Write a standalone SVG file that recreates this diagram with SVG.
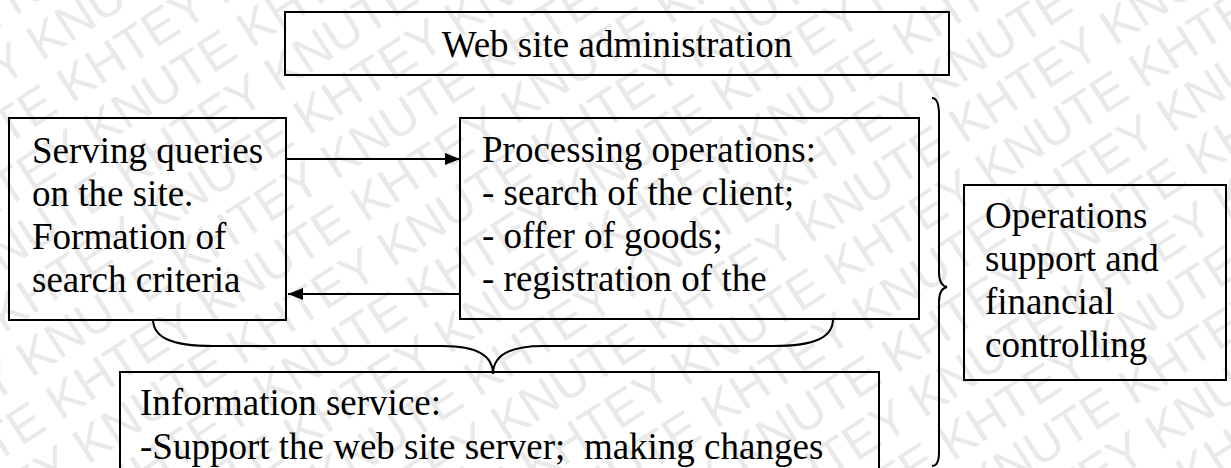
<svg xmlns="http://www.w3.org/2000/svg" width="1231" height="468" viewBox="0 0 1231 468">
  <style>
    .box { fill: none; stroke: #000; stroke-width: 2; }
    .label { font-family: "Liberation Serif", "Times New Roman", serif; font-size: 37px; fill: #000; }
    .wire { fill: none; stroke: #000; stroke-width: 2; }
    .brace { fill: none; stroke: #000; stroke-width: 2; }
    .wm { font-family: "Liberation Sans", Arial, sans-serif; font-size: 50px; fill: #e9e9e9; }
  </style>
  <defs>
    <marker id="arrowhead" markerWidth="16" markerHeight="12" refX="15" refY="6" orient="auto" markerUnits="userSpaceOnUse">
      <path d="M0,0 L15,6 L0,12 Z" fill="#000"/>
    </marker>
  </defs>

  <rect width="1231" height="468" fill="#fff"/>

  <!-- background stamp rows, staggered by half a period -->
  <g id="watermark" transform="rotate(-33)">
    <text class="wm" x="-725" y="-30">KNUTE KHTEY KNUTE KHTEY KNUTE KHTEY KNUTE KHTEY KNUTE KHTEY KNUTE KHTEY</text>
    <text class="wm" x="-543" y="22">KNUTE KHTEY KNUTE KHTEY KNUTE KHTEY KNUTE KHTEY KNUTE KHTEY KNUTE KHTEY</text>
    <text class="wm" x="-725" y="74">KNUTE KHTEY KNUTE KHTEY KNUTE KHTEY KNUTE KHTEY KNUTE KHTEY KNUTE KHTEY</text>
    <text class="wm" x="-543" y="126">KNUTE KHTEY KNUTE KHTEY KNUTE KHTEY KNUTE KHTEY KNUTE KHTEY KNUTE KHTEY</text>
    <text class="wm" x="-725" y="178">KNUTE KHTEY KNUTE KHTEY KNUTE KHTEY KNUTE KHTEY KNUTE KHTEY KNUTE KHTEY</text>
    <text class="wm" x="-543" y="230">KNUTE KHTEY KNUTE KHTEY KNUTE KHTEY KNUTE KHTEY KNUTE KHTEY KNUTE KHTEY</text>
    <text class="wm" x="-725" y="282">KNUTE KHTEY KNUTE KHTEY KNUTE KHTEY KNUTE KHTEY KNUTE KHTEY KNUTE KHTEY</text>
    <text class="wm" x="-543" y="334">KNUTE KHTEY KNUTE KHTEY KNUTE KHTEY KNUTE KHTEY KNUTE KHTEY KNUTE KHTEY</text>
    <text class="wm" x="-725" y="386">KNUTE KHTEY KNUTE KHTEY KNUTE KHTEY KNUTE KHTEY KNUTE KHTEY KNUTE KHTEY</text>
    <text class="wm" x="-543" y="438">KNUTE KHTEY KNUTE KHTEY KNUTE KHTEY KNUTE KHTEY KNUTE KHTEY KNUTE KHTEY</text>
    <text class="wm" x="-725" y="490">KNUTE KHTEY KNUTE KHTEY KNUTE KHTEY KNUTE KHTEY KNUTE KHTEY KNUTE KHTEY</text>
    <text class="wm" x="-543" y="542">KNUTE KHTEY KNUTE KHTEY KNUTE KHTEY KNUTE KHTEY KNUTE KHTEY KNUTE KHTEY</text>
    <text class="wm" x="-725" y="594">KNUTE KHTEY KNUTE KHTEY KNUTE KHTEY KNUTE KHTEY KNUTE KHTEY KNUTE KHTEY</text>
    <text class="wm" x="-543" y="646">KNUTE KHTEY KNUTE KHTEY KNUTE KHTEY KNUTE KHTEY KNUTE KHTEY KNUTE KHTEY</text>
    <text class="wm" x="-725" y="698">KNUTE KHTEY KNUTE KHTEY KNUTE KHTEY KNUTE KHTEY KNUTE KHTEY KNUTE KHTEY</text>
    <text class="wm" x="-543" y="750">KNUTE KHTEY KNUTE KHTEY KNUTE KHTEY KNUTE KHTEY KNUTE KHTEY KNUTE KHTEY</text>
    <text class="wm" x="-725" y="802">KNUTE KHTEY KNUTE KHTEY KNUTE KHTEY KNUTE KHTEY KNUTE KHTEY KNUTE KHTEY</text>
    <text class="wm" x="-543" y="854">KNUTE KHTEY KNUTE KHTEY KNUTE KHTEY KNUTE KHTEY KNUTE KHTEY KNUTE KHTEY</text>
    <text class="wm" x="-725" y="906">KNUTE KHTEY KNUTE KHTEY KNUTE KHTEY KNUTE KHTEY KNUTE KHTEY KNUTE KHTEY</text>
    <text class="wm" x="-543" y="958">KNUTE KHTEY KNUTE KHTEY KNUTE KHTEY KNUTE KHTEY KNUTE KHTEY KNUTE KHTEY</text>
    <text class="wm" x="-725" y="1010">KNUTE KHTEY KNUTE KHTEY KNUTE KHTEY KNUTE KHTEY KNUTE KHTEY KNUTE KHTEY</text>
    <text class="wm" x="-543" y="1062">KNUTE KHTEY KNUTE KHTEY KNUTE KHTEY KNUTE KHTEY KNUTE KHTEY KNUTE KHTEY</text>
    <text class="wm" x="-725" y="1114">KNUTE KHTEY KNUTE KHTEY KNUTE KHTEY KNUTE KHTEY KNUTE KHTEY KNUTE KHTEY</text>
  </g>

  <g id="admin">
    <rect class="box" x="285" y="12" width="664" height="63"/>
    <text class="label" x="617" y="57" text-anchor="middle">Web site administration</text>
  </g>

  <g id="queries">
    <rect class="box" x="9" y="118" width="277" height="202"/>
    <text class="label" x="32" y="163">Serving queries</text>
    <text class="label" x="32" y="206">on the site.</text>
    <text class="label" x="32" y="249">Formation of</text>
    <text class="label" x="32" y="292">search criteria</text>
  </g>

  <g id="processing">
    <rect class="box" x="460" y="118" width="459" height="201"/>
    <text class="label" x="482" y="162">Processing operations:</text>
    <text class="label" x="482" y="205">- search of the client;</text>
    <text class="label" x="482" y="248">- offer of goods;</text>
    <text class="label" x="482" y="291">- registration of the</text>
  </g>

  <g id="operations">
    <rect class="box" x="964" y="185" width="262" height="195"/>
    <text class="label" x="985" y="228">Operations</text>
    <text class="label" x="985" y="271">support and</text>
    <text class="label" x="985" y="314">financial</text>
    <text class="label" x="985" y="357">controlling</text>
  </g>

  <g id="information">
    <rect class="box" x="120" y="372" width="759" height="120"/>
    <text class="label" x="140" y="415">Information service:</text>
    <text class="label" x="140" y="459" xml:space="preserve">-Support the web site server;  making changes</text>
  </g>

  <g id="connectors">
    <line class="wire" x1="286" y1="159" x2="460" y2="159" marker-end="url(#arrowhead)"/>
    <line class="wire" x1="460" y1="294" x2="288" y2="294" marker-end="url(#arrowhead)"/>
    <path class="brace" d="M153,319 C153,337 170,346 213,346 L443,346 C475,346 493,355 493,374 C493,355 511,346 543,346 L773,346 C816,346 833,337 833,319"/>
    <path class="brace" d="M932,98 C937,98 939,104 939,115 L939,272 C939,281 942,286 947,287 C942,288 939,293 939,302 L939,452 C939,461 937,466 932,466"/>
  </g>
</svg>
